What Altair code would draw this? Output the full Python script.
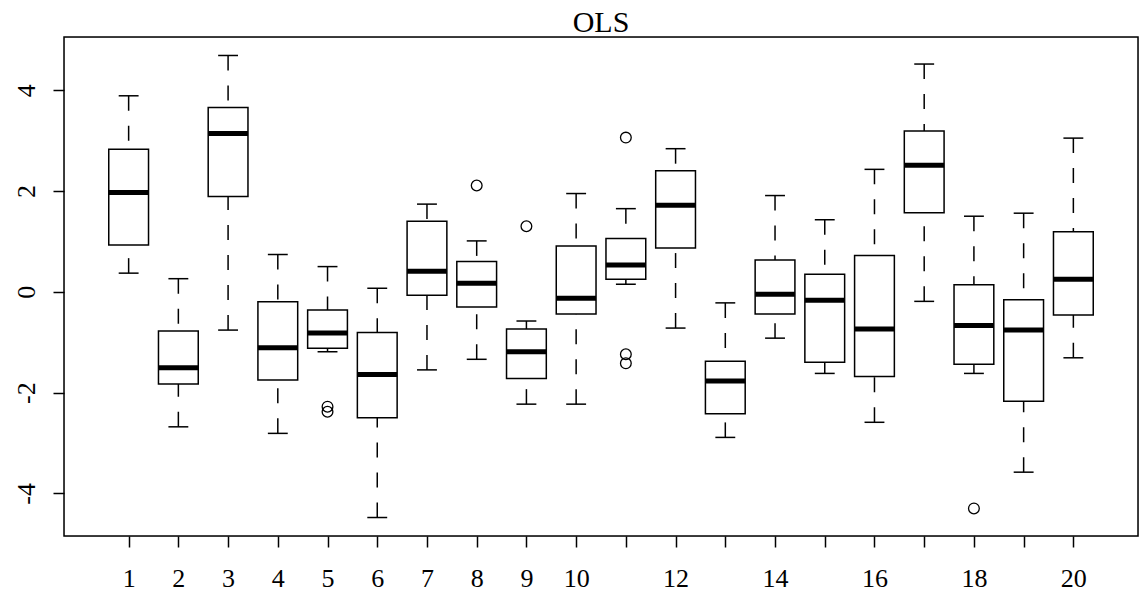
import altair as alt
import pandas as pd

# Five-number summaries for each of the 20 groups
groups = list(range(1, 21))
whisker_lo = [0.37, -2.68, -0.76, -2.81, -1.19, -4.48, -1.55, -1.34, -2.23, -2.23,
              0.15, -0.72, -2.89, -0.92, -1.62, -2.59, -0.19, -1.62, -3.58, -1.31]
quart_lo = [0.93, -1.83, 1.89, -1.75, -1.12, -2.50, -0.07, -0.30, -1.72, -0.44,
            0.25, 0.87, -2.42, -0.44, -1.40, -1.68, 1.57, -1.44, -2.17, -0.46]
medians = [1.97, -1.51, 3.14, -1.11, -0.82, -1.64, 0.41, 0.17, -1.19, -0.13,
           0.53, 1.72, -1.77, -0.05, -0.17, -0.74, 2.51, -0.67, -0.76, 0.25]
quart_hi = [2.83, -0.78, 3.66, -0.20, -0.36, -0.81, 1.40, 0.60, -0.74, 0.91,
            1.06, 2.40, -1.38, 0.63, 0.35, 0.72, 3.19, 0.14, -0.16, 1.19]
whisker_hi = [3.89, 0.26, 4.69, 0.74, 0.50, 0.07, 1.74, 1.01, -0.58, 1.95,
              1.65, 2.84, -0.22, 1.91, 1.43, 2.43, 4.52, 1.50, 1.56, 3.05]

# Points beyond the whiskers
outlier_group = [5, 5, 8, 9, 11, 11, 11, 18]
outlier_value = [-2.28, -2.38, 2.11, 1.30, 3.06, -1.24, -1.42, -4.30]

title_text = ["OLS"]

BOX_HALF = 0.4     # boxwex 0.8
STAPLE_HALF = 0.2  # staple half the box width

stats = pd.DataFrame({
    "g": groups,
    "lo": whisker_lo,
    "q1": quart_lo,
    "med": medians,
    "q3": quart_hi,
    "hi": whisker_hi,
})
stats["bx0"] = stats["g"] - BOX_HALF
stats["bx1"] = stats["g"] + BOX_HALF
stats["sx0"] = stats["g"] - STAPLE_HALF
stats["sx1"] = stats["g"] + STAPLE_HALF

outliers = pd.DataFrame({"g": outlier_group, "v": outlier_value})

# R-style axis ranges: 4% padding around the data
all_vals = whisker_lo + whisker_hi + outlier_value
ymin, ymax = min(all_vals), max(all_vals)
ypad = 0.04 * (ymax - ymin)
xmin, xmax = 0.5, len(groups) + 0.5
xpad = 0.04 * (xmax - xmin)

FONT = "Liberation Serif"
LW = 1.5
W, H = 1074, 499

xscale = alt.Scale(domain=[xmin - xpad, xmax + xpad], nice=False, zero=False)
yscale = alt.Scale(domain=[ymin - ypad, ymax + ypad], nice=False, zero=False)

xaxis = alt.Axis(
    values=groups,
    title=None,
    grid=False,
    domain=False,
    tickSize=11,
    tickWidth=LW,
    tickColor="black",
    labelFont=FONT,
    labelFontSize=26,
    labelColor="black",
    labelPadding=18,
    labelFlush=False,
    labelOverlap=False,
    labelExpr="(datum.value <= 10 || datum.value % 2 == 0) ? ('' + datum.value) : ''",
)
yaxis = alt.Axis(
    values=[-4, -2, 0, 2, 4],
    title=None,
    grid=False,
    domain=False,
    tickSize=11,
    tickWidth=LW,
    tickColor="black",
    labelFont=FONT,
    labelFontSize=26,
    labelColor="black",
    labelAngle=270,
    labelAlign="center",
    labelBaseline="bottom",
    labelPadding=14,
    labelFlush=False,
    labelOverlap=False,
    labelExpr="'' + datum.value",
)

base = alt.Chart(stats)

# dashed whiskers, drawn from the whisker end towards the box
whisk_low = base.mark_rule(color="black", strokeWidth=LW, strokeDash=[15, 15]).encode(
    x=alt.X("g:Q", scale=xscale, axis=xaxis),
    y=alt.Y("lo:Q", scale=yscale, axis=yaxis),
    y2="q1:Q",
)
whisk_high = base.mark_rule(color="black", strokeWidth=LW, strokeDash=[15, 15]).encode(
    x=alt.X("g:Q", scale=xscale),
    y=alt.Y("hi:Q", scale=yscale),
    y2="q3:Q",
)

# staples at whisker ends
staple_low = base.mark_rule(color="black", strokeWidth=LW).encode(
    x=alt.X("sx0:Q", scale=xscale), x2="sx1:Q", y=alt.Y("lo:Q", scale=yscale)
)
staple_high = base.mark_rule(color="black", strokeWidth=LW).encode(
    x=alt.X("sx0:Q", scale=xscale), x2="sx1:Q", y=alt.Y("hi:Q", scale=yscale)
)

# boxes
boxes = base.mark_rect(fill="white", stroke="black", strokeWidth=LW).encode(
    x=alt.X("bx0:Q", scale=xscale), x2="bx1:Q",
    y=alt.Y("q1:Q", scale=yscale), y2="q3:Q",
)

# thick median lines
median_lines = base.mark_rule(color="black", strokeWidth=5).encode(
    x=alt.X("bx0:Q", scale=xscale), x2="bx1:Q", y=alt.Y("med:Q", scale=yscale)
)

# outlying points as open circles
points = alt.Chart(outliers).mark_point(
    shape="circle", filled=False, color="black", size=115, strokeWidth=1.3, opacity=1
).encode(
    x=alt.X("g:Q", scale=xscale),
    y=alt.Y("v:Q", scale=yscale),
)

# plot frame
frame = alt.Chart(pd.DataFrame({"k": [0]})).mark_rect(
    fill=None, stroke="black", strokeWidth=LW
).encode(
    x=alt.value(0), x2=alt.value(W), y=alt.value(0), y2=alt.value(H)
)

# main title above the frame
title = alt.Chart(pd.DataFrame({"t": title_text})).mark_text(
    font=FONT, fontSize=30, color="black", align="center", baseline="alphabetic"
).encode(
    text="t:N", x=alt.value(W / 2), y=alt.value(-5)
)

chart = (
    alt.layer(whisk_low, whisk_high, staple_low, staple_high, boxes, median_lines,
              points, frame, title)
    .properties(
        width=W,
        height=H,
        autosize=alt.AutoSizeParams(type="none"),
        padding={"left": 64, "top": 37, "right": 1, "bottom": 60},
    )
    .configure_view(stroke=None)
    .configure(background="white")
)

chart.save("out.html", embed_options={"renderer": "svg", "actions": False})
